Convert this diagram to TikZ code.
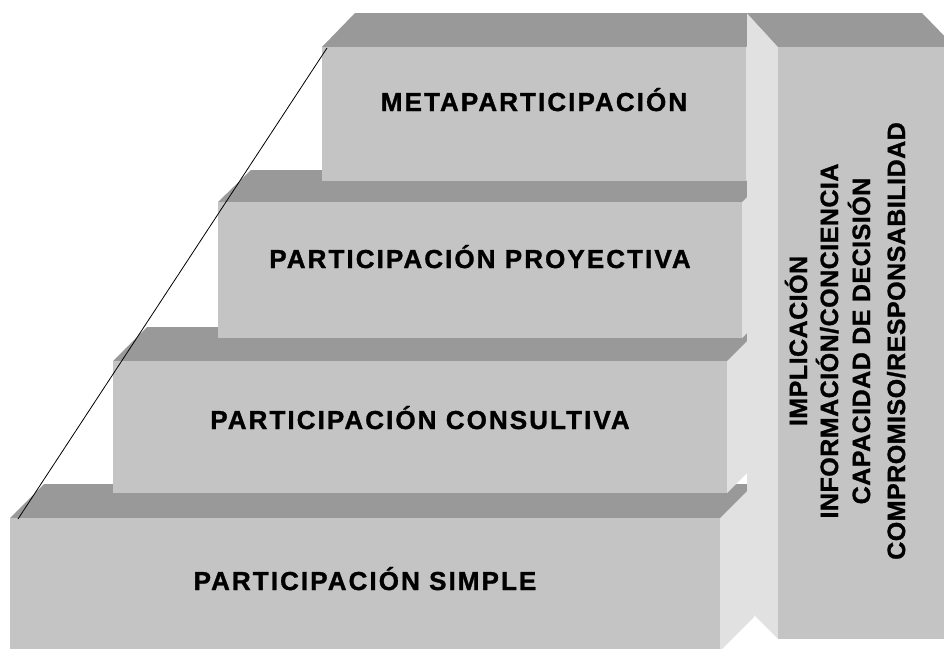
\documentclass[tikz,border=0pt]{standalone}
\usepackage{fontspec}
\setmainfont{Liberation Sans}
\newfontfamily\stepfont{Liberation Sans Bold}[LetterSpace=8, FakeBold=1.2]
\newfontfamily\sidefont{Liberation Sans Bold}[LetterSpace=2, FakeBold=1.2]

\definecolor{frontgray}{HTML}{C4C4C4}
\definecolor{topgray}{HTML}{999999}
\definecolor{sidegray}{HTML}{E1E1E1}

\tikzset{
    frontface/.style={fill=frontgray},
    topface/.style={fill=topgray},
    sideface/.style={fill=sidegray},
    steplabel/.style={anchor=base, inner sep=0pt, font=\stepfont\fontsize{26}{26}\selectfont},
    sidelabel/.style={anchor=base, rotate=90, inner sep=0pt, font=\sidefont\fontsize{25}{25}\selectfont}
}

\begin{document}
\begin{tikzpicture}[x=1pt, y=-1pt]
        \useasboundingbox (0, 0) rectangle (944, 648);
        \clip (0, 0) rectangle (944, 648);
        \fill[white] (0, 0) rectangle (944, 648);

        % bottom step
        \fill[sideface] (720, 518) -- (754, 484) -- (754, 617) -- (720, 651) -- cycle;
        \fill[topface] (10, 518) -- (44, 484) -- (754, 484) -- (720, 518) -- cycle;
        \fill[frontface] (10, 518) rectangle (720, 660);

        % second step
        \fill[sideface] (727, 361) -- (761, 327) -- (761, 459) -- (727, 493) -- cycle;
        \fill[topface] (113, 361) -- (147, 327) -- (761, 327) -- (727, 361) -- cycle;
        \fill[frontface] (113, 361) rectangle (727, 493);

        % third step
        \fill[sideface] (742, 202) -- (775, 170) -- (775, 305) -- (742, 338) -- cycle;
        \fill[topface] (218, 202) -- (251, 170) -- (775, 170) -- (742, 202) -- cycle;
        \fill[frontface] (218, 202) rectangle (742, 338);

        % top step
        \fill[sideface] (746, 47) -- (780, 13) -- (780, 147) -- (746, 181) -- cycle;
        \fill[topface] (322, 47) -- (355, 13) -- (780, 13) -- (746, 47) -- cycle;
        \fill[frontface] (322, 47) rectangle (746, 181);

        % right column
        \fill[sideface] (747, 13) -- (778, 47) -- (778, 639) -- (747, 608) -- cycle;
        \fill[topface] (747, 13) -- (778, 47) -- (955, 47) -- (922, 13) -- cycle;
        \fill[frontface] (778, 47) rectangle (955, 639);

        \coordinate (slopebottom) at (18, 519);
        \coordinate (slopetop) at (327, 48);
        \draw[black, line width=0.8pt] (slopebottom) -- (slopetop);

        \node[steplabel] (simple) at (365, 590) {PARTICIPACIÓN SIMPLE};
        \node[steplabel] (consultiva) at (420, 429) {PARTICIPACIÓN CONSULTIVA};
        \node[steplabel] (proyectiva) at (480, 268) {PARTICIPACIÓN PROYECTIVA};
        \node[steplabel] (meta) at (534, 111) {METAPARTICIPACIÓN};

        \node[sidelabel] (implicacion) at (807, 341) {IMPLICACIÓN};
        \node[sidelabel] (informacion) at (838, 341) {INFORMACIÓN/CONCIENCIA};
        \node[sidelabel] (decision) at (870, 341) {CAPACIDAD DE DECISIÓN};
        \node[sidelabel] (compromiso) at (905, 341) {COMPROMISO/RESPONSABILIDAD};
    \end{tikzpicture}
\end{document}
